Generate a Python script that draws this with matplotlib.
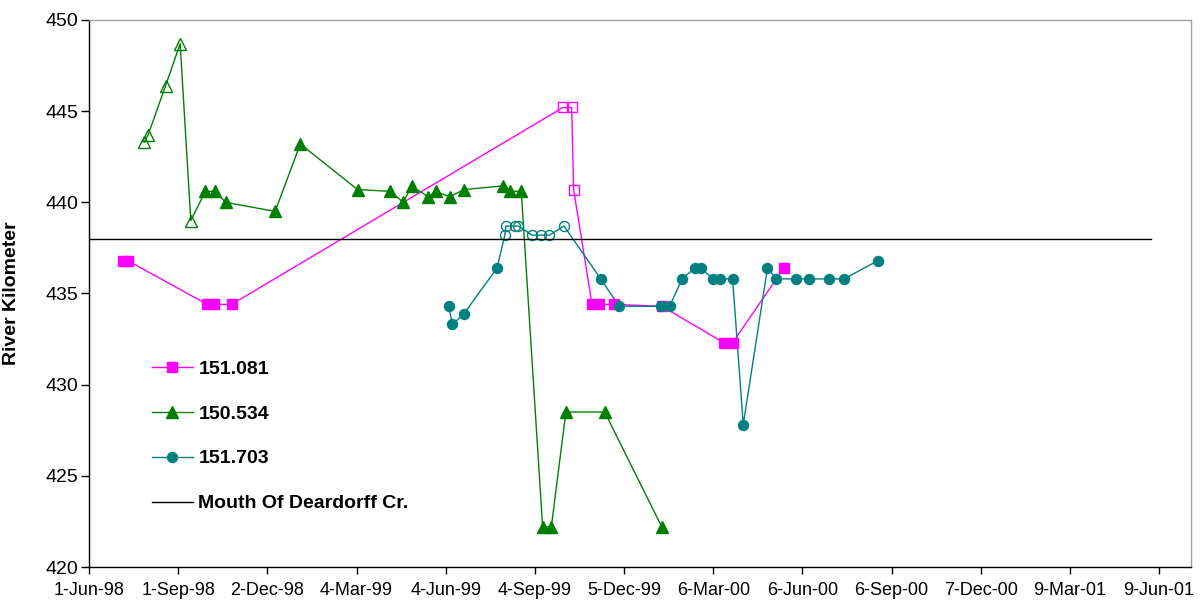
import datetime as dt
import matplotlib
matplotlib.use('Agg')
import matplotlib.pyplot as plt
from matplotlib.lines import Line2D

plt.rcParams['font.family'] = ['Liberation Sans', 'DejaVu Sans']

# 151.081 (squares); True = open marker
dates_081 = ['1998-07-06', '1998-07-11', '1998-10-01', '1998-10-08', '1998-10-26',
             '1999-10-03', '1999-10-12', '1999-10-14', '1999-11-02', '1999-11-09',
             '1999-11-25', '2000-01-13', '2000-03-17', '2000-03-26', '2000-05-18']
km_081 = [436.8, 436.8, 434.4, 434.4, 434.4,
          445.2, 445.2, 440.7, 434.4, 434.4,
          434.4, 434.3, 432.3, 432.3, 436.4]
open_081 = [False, False, False, False, False,
            True, True, True, False, False,
            False, False, False, False, False]

# 150.534 (triangles)
dates_534 = ['1998-07-28', '1998-08-01', '1998-08-19', '1998-09-03', '1998-09-14',
             '1998-09-29', '1998-10-09', '1998-10-20', '1998-12-10', '1999-01-05',
             '1999-03-05', '1999-04-08', '1999-04-21', '1999-04-30', '1999-05-17',
             '1999-05-25', '1999-06-08', '1999-06-23', '1999-08-02', '1999-08-09',
             '1999-08-21', '1999-09-12', '1999-09-21', '1999-10-06', '1999-11-15',
             '2000-01-13']
km_534 = [443.3, 443.7, 446.4, 448.7, 439.0,
          440.6, 440.6, 440.0, 439.5, 443.2,
          440.7, 440.6, 440.0, 440.9, 440.3,
          440.6, 440.3, 440.7, 440.9, 440.6,
          440.6, 422.2, 422.2, 428.5, 428.5,
          422.2]
open_534 = [True, True, True, True, True] + [False] * 21

# 151.703 (circles)
dates_703 = ['1999-06-07', '1999-06-11', '1999-06-23', '1999-07-27', '1999-08-04',
             '1999-08-05', '1999-08-14', '1999-08-18', '1999-09-01', '1999-09-10',
             '1999-09-19', '1999-10-04', '1999-11-11', '1999-11-30', '2000-01-12',
             '2000-01-21', '2000-02-03', '2000-02-16', '2000-02-22', '2000-03-06',
             '2000-03-13', '2000-03-26', '2000-04-06', '2000-05-01', '2000-05-10',
             '2000-05-30', '2000-06-13', '2000-07-04', '2000-07-19', '2000-08-23']
km_703 = [434.3, 433.3, 433.9, 436.4, 438.2,
          438.7, 438.7, 438.7, 438.2, 438.2,
          438.2, 438.7, 435.8, 434.3, 434.3,
          434.3, 435.8, 436.4, 436.4, 435.8,
          435.8, 435.8, 427.8, 436.4, 435.8,
          435.8, 435.8, 435.8, 435.8, 436.8]
open_703 = [False] * 4 + [True] * 8 + [False] * 18

# reference line
mouth_dates = ['1998-06-01', '2001-06-01']
mouth_km = [438, 438]

series = [
    ('151.081', dates_081, km_081, open_081, '#FF00FF', 's', 7.2),
    ('150.534', dates_534, km_534, open_534, '#008000', '^', 8.5),
    ('151.703', dates_703, km_703, open_703, '#008080', 'o', 7.2),
]


def to_dates(strs):
    return [dt.datetime.strptime(s, '%Y-%m-%d') for s in strs]


fig = plt.figure(figsize=(12, 6.05), dpi=100)
ax = fig.add_axes([0.0742, 0.0628, 0.9183, 0.9042])

handles = []
for name, ds, ys, opens, color, mk, ms in series:
    xs = to_dates(ds)
    ax.plot(xs, ys, color=color, lw=1.0, zorder=2)
    fx = [x for x, o in zip(xs, opens) if not o]
    fy = [y for y, o in zip(ys, opens) if not o]
    ox = [x for x, o in zip(xs, opens) if o]
    oy = [y for y, o in zip(ys, opens) if o]
    ax.plot(fx, fy, ls='none', marker=mk, ms=ms, color=color, mec=color, zorder=3)
    ax.plot(ox, oy, ls='none', marker=mk, ms=ms, mfc='none', mec=color, mew=1.0, zorder=3)
    handles.append(Line2D([], [], color=color, lw=1.0, marker=mk, ms=ms,
                          label=name))

ax.plot(to_dates(mouth_dates), mouth_km, color='black', lw=1.0, zorder=4)
handles.append(Line2D([], [], color='black', lw=1.0, label='Mouth Of Deardorff Cr.'))

# axes
start = dt.datetime(1998, 6, 1)
ax.set_xlim(start, start + dt.timedelta(days=1137))
ax.set_ylim(420, 450)
ticks = [start + dt.timedelta(days=92 * i) for i in range(13)]
ax.set_xticks(ticks)
ax.set_xticklabels([f"{d.day}-{d.strftime('%b-%y')}" for d in ticks], fontsize=13)
ax.set_yticks(range(420, 451, 5))
ax.tick_params(axis='y', labelsize=14, direction='out', length=6, width=1, pad=2)
ax.tick_params(axis='x', direction='out', length=5, width=1, pad=6)

ax.spines['top'].set_color('#A0A0A0')
ax.spines['right'].set_color('#A0A0A0')
for sp in ax.spines.values():
    sp.set_linewidth(1.0)

ax.set_ylabel('River Kilometer', fontsize=14, fontweight='bold')
ax.yaxis.set_label_coords(-0.063, 0.5)

ax.legend(handles=handles, loc='upper left', bbox_to_anchor=(0.041, 0.41),
          frameon=False, prop={'weight': 'bold', 'size': 14},
          handlelength=2.1, handletextpad=0.3, labelspacing=1.4, numpoints=1)

fig.savefig('out.png', dpi=100)
